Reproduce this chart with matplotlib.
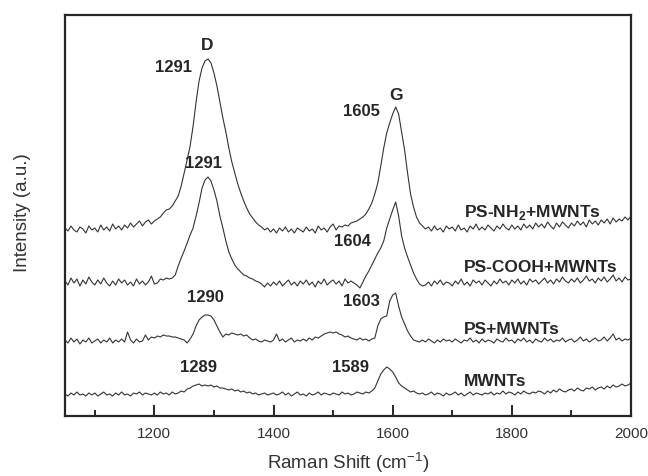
import numpy as np
import matplotlib
matplotlib.use("Agg")
import matplotlib.pyplot as plt
from matplotlib.ticker import MultipleLocator

plt.rcParams['font.family'] = ['Liberation Sans', 'DejaVu Sans']
plt.rcParams['mathtext.fontset'] = 'custom'
plt.rcParams['mathtext.rm'] = 'Liberation Sans'
plt.rcParams['mathtext.bf'] = 'Liberation Sans:bold'

# Raman shift grid (cm^-1), sampled every 5 cm^-1 from 1050 to 2000
raman_shift = np.arange(1050, 2001, 5)

ps_nh2_mwnts = [
    188, 185, 190, 186, 184, 189, 187, 183, 190, 186,
    188, 184, 191, 186, 189, 185, 192, 187, 190, 186,
    191, 188, 193, 189, 192, 195, 190, 194, 196, 192,
    195, 197, 199, 203, 206, 207, 210, 215, 220, 230,
    243, 256, 270, 290, 314, 335, 348, 355, 357, 353,
    343, 330, 314, 298, 284, 268, 254, 243, 232, 223,
    215, 208, 202, 198, 194, 191, 189, 186, 188, 184,
    187, 183, 188, 185, 189, 184, 187, 183, 188, 186,
    184, 189, 185, 187, 183, 190, 186, 188, 184, 189,
    192, 186, 190, 189, 191, 190, 193, 194, 195, 197,
    199, 202, 207, 213, 222, 233, 250, 268, 283, 293,
    302, 309, 302, 284, 266, 243, 222, 209, 199, 193,
    190, 187, 189, 185, 190, 186, 188, 184, 190, 187,
    189, 185, 191, 186, 188, 184, 190, 187, 192, 186,
    189, 186, 191, 188, 185, 190, 187, 192, 188, 186,
    191, 187, 190, 186, 192, 188, 191, 187, 193, 189,
    192, 188, 194, 190, 187, 193, 189, 194, 191, 188,
    193, 190, 195, 191, 194, 189, 196, 192, 195, 191,
    196, 193, 197, 192, 198, 194, 197, 195, 199, 196,
    200,
]

ps_cooh_mwnts = [
    135, 131, 138, 133, 137, 130, 136, 132, 139, 134,
    131, 136, 132, 138, 133, 130, 135, 131, 137, 133,
    136, 131, 134, 130, 137, 132, 135, 131, 134, 140,
    132, 133, 137, 136, 138, 137, 138, 141, 150, 158,
    165, 173, 181, 188, 200, 213, 228, 236, 239, 235,
    226, 215, 200, 188, 175, 164, 157, 151, 147, 144,
    141, 140, 138, 137, 135, 134, 132, 129, 133, 130,
    134, 131, 135, 130, 133, 136, 131, 134, 130, 135,
    132, 136, 131, 134, 129, 135, 132, 137, 131, 134,
    136, 132, 135, 130, 137, 133, 135, 133, 131, 128,
    134, 140, 145, 151, 157, 163, 168, 175, 188, 197,
    206, 214, 200, 180, 168, 159, 151, 143, 137, 132,
    130, 131, 134, 130, 135, 132, 136, 131, 134, 133,
    130, 135, 132, 137, 131, 134, 130, 136, 133, 135,
    131, 136, 133, 130, 135, 132, 137, 133, 135, 131,
    136, 133, 137, 132, 135, 131, 137, 134, 136, 132,
    135, 138, 133, 136, 132, 137, 134, 139, 135, 133,
    137, 134, 138, 133, 136, 140, 135, 137, 133, 138,
    135, 139, 134, 137, 141, 135, 138, 134, 139, 136,
    137,
]

ps_mwnts = [
    76, 73, 78, 74, 77, 72, 76, 74, 78, 73,
    75, 77, 73, 76, 74, 78, 73, 76, 74, 77,
    74, 84, 76, 73, 77, 74, 75, 81, 76, 79,
    78, 80, 79, 81, 80, 80, 79, 79, 78, 77,
    76, 73, 77, 82, 90, 96, 99, 101, 101, 100,
    96, 90, 84, 79, 82, 81, 83, 82, 81, 82,
    80, 81, 78, 76, 77, 75, 74, 76, 75, 74,
    76, 82, 75, 77, 74, 76, 78, 74, 76, 75,
    77, 75, 78, 76, 79, 78, 80, 82, 83, 84,
    83, 84, 82, 81, 79, 80, 78, 77, 76, 78,
    76, 77, 75, 77, 78, 90, 97, 99, 100, 115,
    121, 123, 110, 99, 92, 85, 80, 76, 75, 74,
    76, 74, 77, 75, 73, 76, 74, 77, 75, 76,
    74, 77, 75, 73, 76, 75, 78, 74, 76, 73,
    77, 74, 76, 75, 73, 77, 75, 74, 78, 75,
    76, 73, 77, 75, 78, 74, 76, 73, 77, 75,
    74, 78, 75, 77, 74, 76, 75, 78, 74, 76,
    77, 74, 76, 79, 75, 77, 74, 76, 78, 75,
    76, 79, 75, 78, 82, 76, 78, 75, 77, 76,
    78,
]

mwnts = [
    22, 20, 23, 21, 24, 21, 22, 20, 23, 21,
    23, 20, 22, 24, 21, 22, 20, 23, 21, 24,
    21, 22, 20, 23, 22, 24, 21, 23, 22, 21,
    23, 21, 24, 22, 23, 21, 24, 22, 23, 25,
    24, 27, 28, 30, 31, 32, 30, 31, 30, 31,
    29, 30, 28, 28, 27, 26, 27, 25, 26, 24,
    25, 23, 24, 22, 23, 21, 22, 23, 21, 22,
    23, 21, 22, 24, 21, 23, 20, 22, 24, 21,
    22, 20, 23, 21, 22, 24, 21, 23, 22, 21,
    23, 22, 21, 24, 22, 23, 21, 22, 24, 23,
    22, 24, 23, 25, 28, 35, 42, 46, 49, 47,
    44, 39, 33, 30, 28, 26, 24, 25, 23, 22,
    23, 21, 22, 24, 21, 23, 22, 20, 23, 21,
    22, 24, 21, 23, 20, 22, 24, 21, 23, 22,
    21, 23, 22, 24, 21, 23, 22, 25, 22, 24,
    23, 21, 24, 22, 25, 23, 22, 24, 23, 25,
    24, 22, 25, 23, 26, 24, 27, 25, 24, 26,
    27, 25, 28, 26, 25, 28, 27, 29, 26, 28,
    29, 27, 30, 28, 31, 29, 30, 32, 30, 31,
    33,
]

series_labels = [r"PS-NH$_\mathbf{2}$+MWNTs", "PS-COOH+MWNTs", "PS+MWNTs", "MWNTs"]
series_label_y = [204, 150, 88, 35]

peak_labels = ["1291", "1605", "1291", "1604", "1290", "1603", "1289", "1589"]
peak_label_x = [1232, 1548, 1283, 1533, 1285, 1548, 1274, 1529]
peak_label_y = [349, 305, 254, 175, 119, 115, 49, 49]

band_labels = ["D", "G"]
band_label_x = [1288, 1605]
band_label_y = [372, 321]

xticks = [1200, 1400, 1600, 1800, 2000]

ink = "#262626"

fig = plt.figure(figsize=(6.48, 4.77), dpi=100)
ax = fig.add_axes([65/648, 1-417/477, 566/648, 401/477])

for s in [ps_nh2_mwnts, ps_cooh_mwnts, ps_mwnts, mwnts]:
    ax.plot(raman_shift, s, color="#333333", lw=0.8)

ax.set_xlim(1050, 2000)
ax.set_ylim(0, 401)
ax.set_xticks(xticks)
ax.xaxis.set_minor_locator(MultipleLocator(100))
ax.set_yticks([])
ax.tick_params(axis='x', which='both', direction='in', top=False, colors=ink,
               labelsize=11, pad=7.5, width=1.4)
ax.tick_params(axis='x', which='major', length=8)
ax.tick_params(axis='x', which='minor', length=4)
for lab in ax.get_xticklabels():
    lab.set_color("#333333")
for sp in ax.spines.values():
    sp.set_linewidth(1.6)
    sp.set_color(ink)

for t, y in zip(series_labels, series_label_y):
    ax.text(1720, y, t, ha='left', va='center', fontsize=12.5, fontweight='bold', color=ink)
for t, x, y in zip(peak_labels, peak_label_x, peak_label_y):
    ax.text(x, y, t, ha='center', va='center', fontsize=12, fontweight='bold', color=ink)
for t, x, y in zip(band_labels, band_label_x, band_label_y):
    ax.text(x, y, t, ha='center', va='center', fontsize=12.5, fontweight='bold', color=ink)

fig.text(348/648, 1-463/477, r"Raman Shift (cm$^{-1}$)", ha='center', va='center',
         fontsize=13.5, color="#333333")
fig.text(23/648, 1-213/477, "Intensity (a.u.)", ha='center', va='center',
         rotation=90, fontsize=13.5, color="#333333")

fig.savefig("out.png", dpi=100)
